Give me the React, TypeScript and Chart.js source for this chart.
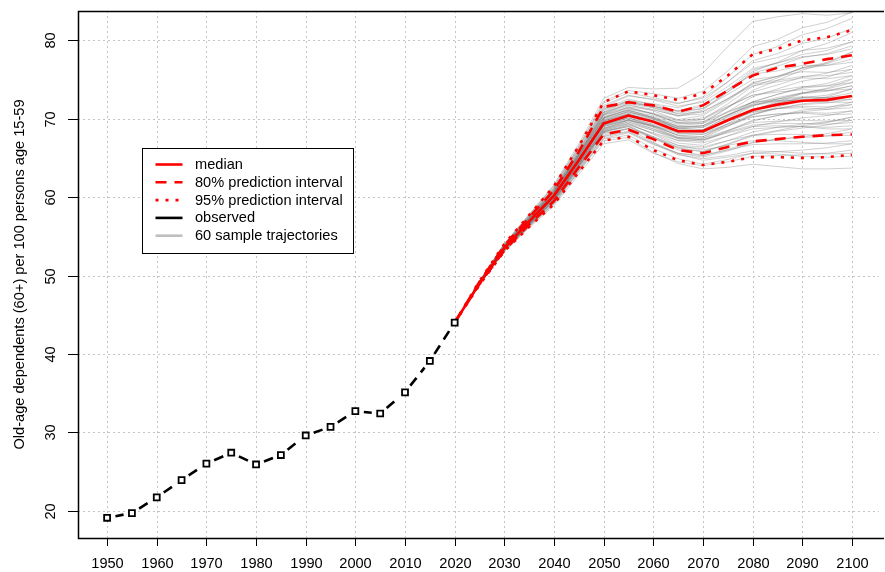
import { useEffect, useRef } from "react";
import { Chart, registerables } from "chart.js";

Chart.register(...registerables);

// Observed old-age dependency ratio, 1950-2020
const observedYears = [1950, 1955, 1960, 1965, 1970, 1975, 1980, 1985, 1990, 1995, 2000, 2005, 2010, 2015, 2020];
const observedValues = [19.1, 19.7, 21.7, 23.9, 26.0, 27.4, 25.9, 27.1, 29.6, 30.7, 32.7, 32.4, 35.1, 39.1, 44.0];

// Projection horizon
const projectionYears = [2020, 2025, 2030, 2035, 2040, 2045, 2050, 2055, 2060, 2065, 2070, 2075, 2080, 2085, 2090, 2095, 2100];
const medianValues = [44.0, 49.0, 53.5, 56.9, 60.2, 64.7, 69.4, 70.4, 69.6, 68.4, 68.4, 69.8, 71.1, 71.8, 72.3, 72.4, 72.9];
const lower80 = [44.0, 48.9, 53.2, 56.5, 59.5, 63.8, 68.0, 68.6, 67.4, 66.0, 65.6, 66.4, 67.1, 67.4, 67.7, 67.9, 68.0];
const upper80 = [44.0, 49.2, 53.8, 57.4, 60.9, 65.8, 71.5, 72.1, 71.7, 70.9, 71.7, 73.6, 75.5, 76.5, 77.0, 77.6, 78.1];
const lower95 = [44.0, 48.8, 53.1, 56.2, 59.1, 63.2, 67.2, 67.7, 66.0, 64.7, 64.1, 64.5, 65.1, 65.1, 65.0, 65.1, 65.4];
const upper95 = [44.0, 49.3, 54.0, 57.7, 61.4, 66.5, 72.1, 73.5, 73.0, 72.4, 73.2, 75.5, 78.2, 78.9, 80.0, 80.4, 81.3];

// 60 simulated trajectories, 2025-2100 (each continues from the 2020 observation)
const sampleTrajectories = [
  [49.0, 53.5, 56.9, 60.2, 64.7, 69.4, 70.5, 69.8, 68.7, 68.9, 70.5, 72.2, 73.1, 73.9, 74.2, 75.1],
  [49.1, 53.6, 57.1, 60.5, 65.2, 70.1, 71.3, 70.7, 69.9, 70.4, 72.3, 74.5, 75.4, 76.5, 77.0, 78.1],
  [49.0, 53.4, 56.7, 59.9, 64.3, 68.8, 69.6, 68.5, 67.2, 66.9, 67.8, 68.7, 68.9, 69.0, 68.9, 69.1],
  [49.2, 53.8, 57.3, 60.8, 65.6, 70.8, 72.1, 71.6, 70.9, 71.6, 73.7, 76.2, 77.1, 78.2, 78.7, 79.8],
  [48.9, 53.3, 56.5, 59.6, 63.9, 68.3, 69.0, 67.6, 66.2, 65.8, 66.7, 67.8, 68.4, 68.8, 69.2, 69.8],
  [49.2, 53.9, 57.5, 61.1, 66.1, 71.5, 72.9, 72.5, 71.9, 72.8, 75.3, 78.2, 79.2, 80.7, 81.5, 82.8],
  [48.9, 53.2, 56.4, 59.4, 63.5, 67.7, 68.3, 66.8, 65.4, 64.9, 65.3, 65.9, 65.8, 65.6, 65.5, 65.6],
  [49.0, 53.6, 57.0, 60.3, 64.9, 69.7, 70.6, 69.6, 68.2, 68.0, 69.1, 70.2, 70.6, 70.8, 70.7, 71.0],
  [49.0, 53.5, 56.8, 60.1, 64.5, 69.2, 70.3, 69.7, 68.8, 69.1, 70.9, 72.8, 73.8, 74.8, 75.3, 76.3],
  [49.1, 53.7, 57.2, 60.7, 65.4, 70.5, 71.5, 70.6, 69.4, 69.4, 70.8, 72.1, 72.5, 72.8, 72.7, 72.9],
  [48.9, 53.3, 56.6, 59.8, 64.1, 68.5, 69.4, 68.5, 67.5, 67.5, 69.0, 70.5, 71.5, 72.3, 72.8, 73.8],
  [49.3, 54.0, 57.7, 61.4, 66.5, 72.2, 73.6, 73.2, 72.6, 73.5, 76.1, 79.2, 80.1, 81.6, 82.3, 83.6],
  [48.8, 53.1, 56.2, 59.1, 63.2, 67.2, 67.6, 65.7, 64.3, 63.6, 63.8, 64.2, 63.9, 63.6, 63.6, 63.7],
  [49.0, 53.6, 57.0, 60.4, 65.0, 69.8, 71.0, 70.4, 69.5, 69.9, 71.5, 73.0, 73.6, 74.1, 74.2, 74.6],
  [49.0, 53.4, 56.8, 60.0, 64.5, 69.1, 69.9, 68.9, 67.5, 67.3, 68.5, 69.8, 70.4, 70.9, 71.2, 71.8],
  [49.2, 53.8, 57.4, 60.9, 65.8, 71.1, 72.2, 71.4, 70.4, 70.6, 72.5, 74.6, 75.4, 76.4, 76.8, 77.6],
  [48.9, 53.3, 56.5, 59.5, 63.8, 68.1, 68.8, 67.7, 66.6, 66.4, 67.2, 67.9, 68.0, 68.0, 67.8, 67.9],
  [49.1, 53.7, 57.1, 60.6, 65.3, 70.2, 71.5, 71.1, 70.4, 71.1, 73.4, 76.0, 77.2, 78.7, 79.6, 81.0],
  [48.9, 53.4, 56.7, 59.9, 64.2, 68.7, 69.4, 68.0, 66.6, 66.0, 66.6, 67.2, 67.2, 67.0, 66.8, 66.8],
  [49.0, 53.5, 56.9, 60.3, 64.8, 69.5, 70.5, 69.7, 68.5, 68.4, 69.7, 70.8, 71.3, 71.6, 71.5, 71.8],
  [49.0, 53.5, 56.9, 60.1, 64.6, 69.3, 70.3, 69.6, 68.5, 68.6, 70.2, 71.7, 72.5, 73.2, 73.5, 74.2],
  [49.1, 53.7, 57.3, 60.7, 65.5, 70.6, 72.0, 71.6, 71.0, 71.8, 73.7, 75.7, 76.1, 76.8, 76.8, 77.2],
  [48.9, 53.3, 56.6, 59.7, 64.0, 68.4, 69.0, 67.5, 66.0, 65.3, 66.1, 67.0, 67.4, 67.6, 67.8, 68.3],
  [49.1, 53.6, 57.1, 60.4, 65.1, 70.0, 70.9, 70.0, 68.8, 68.6, 70.3, 72.1, 73.1, 74.0, 74.5, 75.5],
  [49.0, 53.4, 56.8, 60.0, 64.4, 69.0, 69.9, 69.1, 68.1, 68.2, 69.3, 70.3, 70.6, 70.7, 70.5, 70.6],
  [49.3, 53.9, 57.6, 61.2, 66.3, 71.7, 73.0, 72.4, 71.6, 72.1, 74.1, 76.4, 77.1, 77.9, 78.2, 78.9],
  [48.8, 53.2, 56.3, 59.2, 63.4, 67.5, 68.2, 66.7, 65.6, 65.3, 66.0, 66.7, 66.8, 66.8, 66.9, 67.2],
  [49.1, 53.7, 57.2, 60.6, 65.3, 70.4, 71.4, 70.6, 69.5, 69.6, 70.9, 72.1, 72.3, 72.4, 72.1, 72.1],
  [48.9, 53.4, 56.6, 59.8, 64.2, 68.6, 69.6, 68.7, 67.6, 67.7, 69.4, 71.0, 72.2, 73.2, 73.9, 75.0],
  [49.0, 53.5, 56.9, 60.2, 64.7, 69.4, 70.3, 69.2, 67.8, 67.5, 68.5, 69.5, 69.7, 69.8, 69.7, 69.8],
  [49.0, 53.6, 57.0, 60.3, 64.9, 69.7, 70.8, 70.2, 69.3, 69.6, 71.4, 73.4, 74.3, 75.3, 75.8, 76.8],
  [49.0, 53.4, 56.8, 60.0, 64.5, 69.1, 70.1, 69.3, 68.3, 68.4, 69.9, 71.2, 72.0, 72.6, 72.7, 73.3],
  [49.2, 53.8, 57.4, 60.9, 65.7, 70.9, 72.3, 71.9, 71.4, 72.3, 74.7, 77.4, 78.3, 79.6, 80.3, 81.5],
  [48.9, 53.3, 56.5, 59.6, 63.9, 68.2, 68.7, 67.0, 65.5, 64.7, 65.1, 65.6, 65.5, 65.2, 65.1, 65.2],
  [49.1, 53.6, 57.1, 60.5, 65.2, 70.1, 71.1, 70.2, 69.0, 68.9, 70.4, 71.9, 72.7, 73.3, 73.6, 74.2],
  [49.0, 53.4, 56.7, 59.9, 64.3, 68.8, 69.8, 69.0, 67.9, 68.0, 69.3, 70.6, 71.3, 71.8, 72.0, 72.5],
  [49.3, 54.1, 57.8, 61.6, 66.8, 72.6, 74.0, 73.8, 73.9, 75.8, 79.2, 82.4, 83.0, 83.4, 83.2, 83.5],
  [48.8, 53.0, 56.1, 58.9, 62.9, 66.8, 67.3, 65.6, 64.5, 64.0, 64.5, 65.2, 65.3, 65.4, 65.6, 66.0],
  [49.1, 53.7, 57.2, 60.7, 65.4, 70.5, 71.7, 71.2, 70.3, 70.9, 72.6, 74.4, 74.9, 75.4, 75.5, 75.9],
  [48.9, 53.3, 56.6, 59.8, 64.1, 68.5, 69.3, 68.1, 66.9, 66.6, 67.8, 69.0, 69.6, 70.1, 70.4, 71.0],
  [49.2, 53.8, 57.4, 61.0, 65.9, 71.2, 72.3, 71.6, 70.6, 70.9, 72.5, 74.2, 74.7, 75.2, 75.1, 75.5],
  [48.9, 53.2, 56.4, 59.5, 63.7, 67.9, 68.7, 67.5, 66.4, 66.2, 67.2, 68.3, 68.9, 69.3, 69.6, 70.2],
  [49.0, 53.5, 56.9, 60.3, 64.8, 69.5, 70.7, 70.0, 69.1, 69.4, 71.4, 73.6, 74.9, 76.2, 77.1, 78.5],
  [49.0, 53.5, 56.9, 60.1, 64.6, 69.3, 70.1, 69.0, 67.6, 67.3, 68.2, 69.0, 69.1, 69.0, 68.7, 68.7],
  [49.1, 53.6, 57.1, 60.4, 65.1, 70.0, 71.2, 70.6, 69.7, 70.1, 71.6, 73.0, 73.4, 73.7, 73.6, 73.8],
  [49.0, 53.4, 56.8, 60.0, 64.4, 69.0, 69.8, 68.7, 67.4, 67.1, 68.4, 69.7, 70.4, 71.1, 71.4, 72.1],
  [49.2, 53.8, 57.3, 60.8, 65.6, 70.8, 71.8, 71.0, 69.8, 69.9, 71.9, 74.1, 75.2, 76.5, 77.2, 78.5],
  [48.9, 53.3, 56.5, 59.6, 63.9, 68.3, 69.2, 68.2, 67.2, 67.3, 68.3, 69.2, 69.4, 69.4, 69.3, 69.5],
  [49.1, 53.7, 57.1, 60.6, 65.3, 70.2, 71.1, 70.1, 68.7, 68.4, 70.0, 71.6, 72.5, 73.3, 73.8, 74.6],
  [48.9, 53.4, 56.7, 59.9, 64.2, 68.7, 69.8, 69.1, 68.3, 68.6, 69.8, 70.9, 71.3, 71.4, 71.2, 71.4],
  [49.3, 54.0, 57.7, 61.4, 66.4, 72.0, 73.3, 72.7, 72.0, 72.6, 74.7, 77.1, 77.8, 78.7, 79.0, 79.8],
  [48.8, 53.1, 56.3, 59.2, 63.3, 67.4, 67.9, 66.2, 64.9, 64.2, 64.8, 65.6, 65.8, 66.0, 66.3, 66.8],
  [49.0, 53.6, 57.0, 60.4, 65.0, 69.8, 70.9, 70.1, 69.0, 69.1, 70.5, 71.8, 72.3, 72.7, 72.6, 72.9],
  [49.0, 53.5, 56.8, 60.1, 64.5, 69.2, 70.1, 69.1, 67.9, 67.7, 69.1, 70.5, 71.3, 71.9, 72.2, 72.9],
  [49.1, 53.7, 57.3, 60.7, 65.5, 70.6, 71.9, 71.4, 70.7, 71.3, 73.4, 75.8, 76.7, 77.8, 78.3, 79.3],
  [48.9, 53.3, 56.6, 59.7, 64.0, 68.4, 69.1, 67.7, 66.3, 65.8, 66.8, 67.9, 68.5, 69.1, 69.5, 70.2],
  [49.0, 53.5, 56.9, 60.2, 64.7, 69.4, 70.5, 69.9, 68.9, 69.1, 70.5, 71.7, 72.2, 72.4, 72.3, 72.5],
  [49.2, 53.9, 57.5, 61.1, 66.0, 71.3, 72.5, 71.8, 71.0, 71.3, 73.1, 75.0, 75.4, 76.0, 75.9, 76.3],
  [48.9, 53.2, 56.4, 59.4, 63.6, 67.8, 68.4, 66.9, 65.6, 65.1, 65.9, 66.9, 67.4, 67.7, 68.1, 68.7],
  [49.0, 53.6, 57.0, 60.3, 64.9, 69.7, 70.6, 69.7, 68.4, 68.2, 69.7, 71.1, 72.0, 72.7, 73.0, 73.8],
];

// Axis ticks and labels
const xTicks = [1950, 1960, 1970, 1980, 1990, 2000, 2010, 2020, 2030, 2040, 2050, 2060, 2070, 2080, 2090, 2100];
const yTicks = [20, 30, 40, 50, 60, 70, 80];
const yTitle = "Old-age dependents (60+) per 100 persons age 15-59";
const legendLabels = ["median", "80% prediction interval", "95% prediction interval", "observed", "60 sample trajectories"];

const FONT = '14.6px "Liberation Sans", Arial, sans-serif';
const RED = "#ff0000";
const DASHED = [11, 8];
const DOTTED = [3, 7];

const toPoints = (xs: number[], ys: number[]) => xs.map((x, i) => ({ x, y: ys[i] }));

const frame = {
  id: "frame",
  beforeDraw(chart: any) {
    const { ctx, width, height } = chart;
    ctx.save();
    ctx.fillStyle = "#ffffff";
    ctx.fillRect(0, 0, width, height);
    ctx.restore();
  },
  beforeDatasetsDraw(chart: any) {
    const { ctx, chartArea: a, scales } = chart;
    ctx.save();
    ctx.strokeStyle = "#c4c4c4";
    ctx.lineWidth = 1;
    ctx.setLineDash([2, 3]);
    xTicks.forEach((v) => {
      const x = Math.round(scales.x.getPixelForValue(v)) + 0.5;
      ctx.beginPath();
      ctx.moveTo(x, a.top);
      ctx.lineTo(x, a.bottom);
      ctx.stroke();
    });
    yTicks.forEach((v) => {
      const y = Math.round(scales.y.getPixelForValue(v)) + 0.5;
      ctx.beginPath();
      ctx.moveTo(a.left, y);
      ctx.lineTo(a.right, y);
      ctx.stroke();
    });
    ctx.restore();
  },
  afterDraw(chart: any) {
    const { ctx, chartArea: a, scales } = chart;
    ctx.save();
    // plot box
    ctx.strokeStyle = "#000";
    ctx.lineWidth = 1.5;
    ctx.setLineDash([]);
    ctx.beginPath();
    ctx.moveTo(a.right + 5, a.top + 0.5);
    ctx.lineTo(a.left + 0.5, a.top + 0.5);
    ctx.lineTo(a.left + 0.5, a.bottom + 0.5);
    ctx.lineTo(a.right + 5, a.bottom + 0.5);
    ctx.stroke();

    ctx.fillStyle = "#000";
    ctx.font = FONT;
    ctx.lineWidth = 1;
    // x axis ticks + labels
    ctx.textAlign = "center";
    ctx.textBaseline = "middle";
    xTicks.forEach((v) => {
      const x = Math.round(scales.x.getPixelForValue(v)) + 0.5;
      ctx.beginPath();
      ctx.moveTo(x, a.bottom);
      ctx.lineTo(x, a.bottom + 8);
      ctx.stroke();
      ctx.fillText(String(v), x, a.bottom + 26);
    });
    // y axis ticks + rotated labels
    yTicks.forEach((v) => {
      const y = Math.round(scales.y.getPixelForValue(v)) + 0.5;
      ctx.beginPath();
      ctx.moveTo(a.left - 10, y);
      ctx.lineTo(a.left, y);
      ctx.stroke();
      ctx.save();
      ctx.translate(a.left - 27, y);
      ctx.rotate(-Math.PI / 2);
      ctx.fillText(String(v), 0, 0);
      ctx.restore();
    });
    // y title
    ctx.save();
    ctx.translate(19.5, (a.top + a.bottom) / 2);
    ctx.rotate(-Math.PI / 2);
    ctx.fillText(yTitle, 0, 0);
    ctx.restore();

    // legend
    const bx = 142.5, by = 148.5, bw = 211, bh = 105;
    ctx.fillStyle = "#fff";
    ctx.fillRect(bx, by, bw, bh);
    ctx.strokeStyle = "#000";
    ctx.lineWidth = 1;
    ctx.strokeRect(bx, by, bw, bh);
    const styles = [
      { color: RED, dash: [] as number[] },
      { color: RED, dash: DASHED },
      { color: RED, dash: DOTTED },
      { color: "#000", dash: [] as number[] },
      { color: "#bebebe", dash: [] as number[] },
    ];
    ctx.textAlign = "left";
    legendLabels.forEach((label, i) => {
      const y = 164.5 + i * 17.8;
      ctx.strokeStyle = styles[i].color;
      ctx.lineWidth = 2.6;
      ctx.setLineDash(styles[i].dash);
      ctx.beginPath();
      ctx.moveTo(155.5, y);
      ctx.lineTo(182.5, y);
      ctx.stroke();
      ctx.setLineDash([]);
      ctx.fillStyle = "#000";
      ctx.fillText(label, 195, y + 0.5);
    });
    ctx.restore();
  },
};

// Observed line: one dash pattern per segment, leaving room around each marker
const MARK_GAP = 8.5;
const OBS_DASH = 10;
const OBS_SPACE = 7;
const segLen = (c: any) => Math.hypot(c.p1.x - c.p0.x, c.p1.y - c.p0.y);

export default function App() {
  const canvasRef = useRef<HTMLCanvasElement | null>(null);

  useEffect(() => {
    document.body.style.margin = "0";
    const canvas = canvasRef.current;
    if (!canvas) return;

    const datasets: any[] = [
      {
        label: "observed",
        data: toPoints(observedYears, observedValues),
        borderColor: "#000",
        borderWidth: 2.6,
        borderCapStyle: "butt",
        pointStyle: "rect",
        pointRadius: 4.2,
        pointBorderWidth: 1.8,
        pointBorderColor: "#000",
        pointBackgroundColor: "#fff",
        order: 0,
        segment: {
          borderDash: (c: any) => {
            const run = Math.max(0, segLen(c) - 2 * MARK_GAP);
            const first = Math.min(OBS_DASH, run);
            const rest = run - OBS_DASH - OBS_SPACE;
            return rest > 1 ? [first, OBS_SPACE, Math.min(OBS_DASH, rest), 1000] : [first, 1000];
          },
          borderDashOffset: (c: any) => -MARK_GAP - c.p0DataIndex * 0.0001,
        },
      },
      {
        label: "median",
        data: toPoints(projectionYears, medianValues),
        borderColor: RED,
        borderWidth: 2.6,
        pointRadius: 0,
        order: 1,
      },
      {
        label: "80% lower",
        data: toPoints(projectionYears, lower80),
        borderColor: RED,
        borderWidth: 2.6,
        borderDash: DASHED,
        pointRadius: 0,
        order: 2,
      },
      {
        label: "80% upper",
        data: toPoints(projectionYears, upper80),
        borderColor: RED,
        borderWidth: 2.6,
        borderDash: DASHED,
        pointRadius: 0,
        order: 2,
      },
      {
        label: "95% lower",
        data: toPoints(projectionYears, lower95),
        borderColor: RED,
        borderWidth: 2.6,
        borderDash: DOTTED,
        pointRadius: 0,
        order: 3,
      },
      {
        label: "95% upper",
        data: toPoints(projectionYears, upper95),
        borderColor: RED,
        borderWidth: 2.6,
        borderDash: DOTTED,
        pointRadius: 0,
        order: 3,
      },
      ...sampleTrajectories.map((traj, k) => ({
        label: `trajectory ${k + 1}`,
        data: toPoints(projectionYears, [observedValues[observedValues.length - 1], ...traj]),
        borderColor: "rgba(110,110,110,0.32)",
        borderWidth: 1,
        pointRadius: 0,
        order: 4,
      })),
    ];

    const chart = new Chart(canvas, {
      type: "line",
      data: { datasets },
      options: {
        animation: false,
        responsive: false,
        devicePixelRatio: 1,
        parsing: false as any,
        layout: { padding: { left: 78, top: 11, right: 0, bottom: 34 } },
        scales: {
          x: { type: "linear", display: false, min: 1944.14, max: 2105.46 },
          y: { type: "linear", display: false, min: 16.52, max: 83.74 },
        },
        plugins: {
          legend: { display: false },
          tooltip: { enabled: false },
        },
        elements: { line: { tension: 0 } },
      },
      plugins: [frame],
    });

    return () => chart.destroy();
  }, []);

  return (
    <div style={{ width: 885, height: 572 }}>
      <canvas ref={canvasRef} width={885} height={572} style={{ display: "block" }} />
    </div>
  );
}
